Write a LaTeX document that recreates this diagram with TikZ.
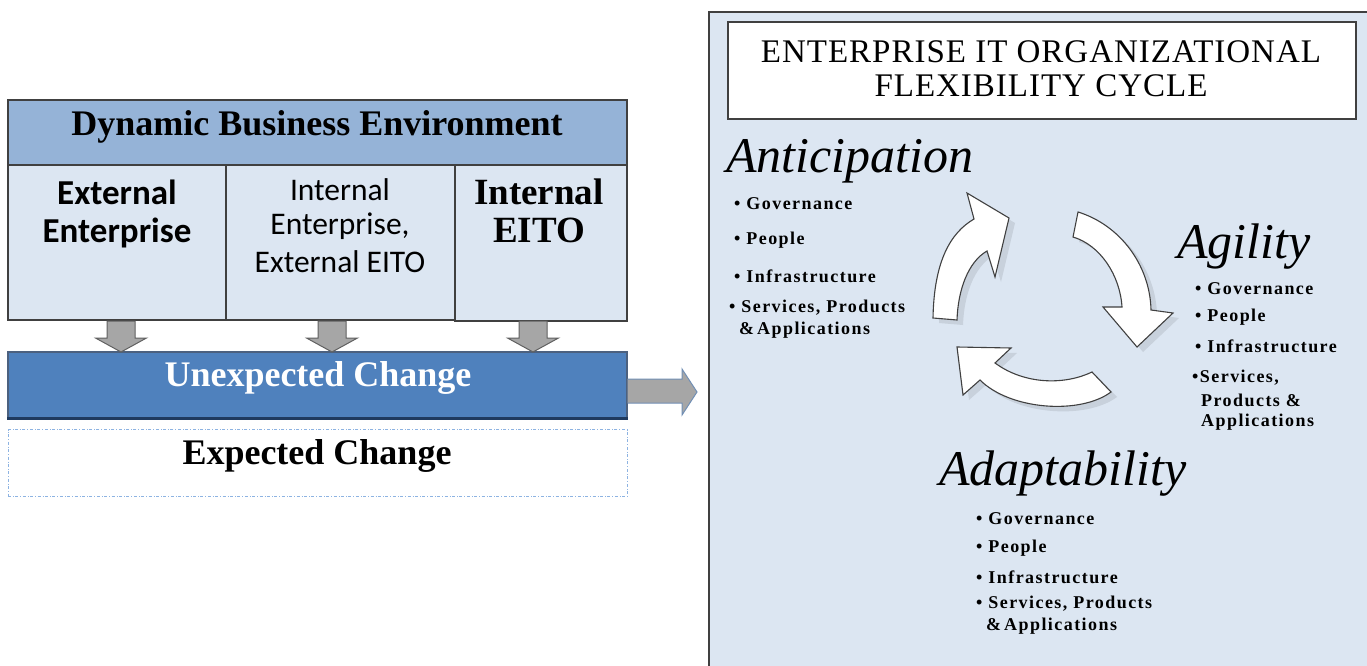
\documentclass[tikz,border=0pt]{standalone}
\usepackage{fontspec}
\setmainfont{Liberation Serif}
\newfontfamily\calfont{Carlito}
\newfontfamily\bulfont[LetterSpace=8]{Liberation Serif}
\newfontfamily\titlefont[LetterSpace=3]{Liberation Serif}
\usetikzlibrary{calc}

\definecolor{hdrblue}{HTML}{95B3D7}
\definecolor{cellblue}{HTML}{DCE6F2}
\definecolor{boxline}{HTML}{404040}
\definecolor{ucblue}{HTML}{4F81BD}
\definecolor{ucdark}{HTML}{1F3A5F}
\definecolor{dashblue}{HTML}{8DB3E2}
\definecolor{arrgray}{HTML}{A6A6A6}
\definecolor{arrline}{HTML}{606060}
\definecolor{shadowc}{HTML}{C8D1DC}

\newcommand{\fs}[1]{\fontsize{#1}{#1}\selectfont}

\tikzset{
  box/.style={draw=boxline, line width=1.3pt, inner sep=0pt},
  hdrbox/.style={box, fill=hdrblue},
  cellbox/.style={box, fill=cellblue},
  txt/.style={inner sep=0pt, align=center},
  blockarrow/.style={fill=arrgray, draw=arrline, line width=1pt, line join=miter},
  cyclearrow/.style={fill=white, draw=boxline, line width=1.1pt, line join=miter},
  cycleshadow/.style={fill=shadowc},
  bullet/.style={inner sep=0pt, anchor=west, align=left, font=\bulfont\bfseries\fs{18}},
  bigital/.style={inner sep=0pt, font=\itshape\fs{50}},
}

\begin{document}
\begin{tikzpicture}[x=1pt, y=-1pt]
\clip (0,0) rectangle (1367,666);
\fill[white] (0,0) rectangle (1367,666);

% ---------- left: sources of change ----------
\node[hdrbox, minimum width=619pt, minimum height=65pt] (env) at (317.5,132.5) {};
\node[txt, font=\bfseries\fs{36}] (envtxt) at (317,127) {Dynamic Business Environment};

\node[cellbox, minimum width=218pt, minimum height=155pt] (c1) at (117,242.5) {};
\node[cellbox, minimum width=229pt, minimum height=155pt] (c2) at (340.5,242.5) {};
\node[cellbox, minimum width=172pt, minimum height=156pt] (c3) at (541,243) {};

\node[txt, font=\calfont\bfseries\fs{35}] (t1a) at (117,192) {External};
\node[txt, font=\calfont\bfseries\fs{35}] (t1b) at (117,233) {Enterprise};
\node[txt, font=\calfont\fs{31.5}] (t2a) at (340,190) {Internal};
\node[txt, font=\calfont\fs{31.5}] (t2b) at (340,226) {Enterprise,};
\node[txt, font=\calfont\fs{31.5}] (t2c) at (340,262) {External EITO};
\node[txt, font=\bfseries\fs{37}] (t3a) at (539,192) {Internal};
\node[txt, font=\bfseries\fs{37}] (t3b) at (539,230) {EITO};

\node[box, draw=ucdark!80, fill=ucblue, minimum width=619pt, minimum height=66pt] (uc) at (317.5,385) {};
\draw[ucdark, line width=3pt] (uc.south west) -- (uc.south east);
\node[txt, text=white, font=\bfseries\fs{36}] (uctxt) at (318,378) {Unexpected Change};

\node[draw=dashblue, dash dot, line width=1pt, fill=white, minimum width=619pt, minimum height=67pt, inner sep=0pt] (ec) at (317.5,463) {};
\node[txt, font=\bfseries\fs{36}] (ectxt) at (317,456) {Expected Change};

% block arrows from each source down into the change bar
\foreach \n/\x in {c1/121, c2/332, c3/533}{
  \draw[blockarrow] (\x-14,321) -- (\x+14,321) -- (\x+14,338) -- (\x+25.5,338)
    -- (\x,352) -- (\x-25.5,338) -- (\x-14,338) -- cycle;
}

% arrow from the change bar into the cycle panel
\draw[fill=arrgray, draw=dashblue!80!black, line width=1pt]
  (uc.east |- 0,379) -- (682,379) -- (682,369) -- (697,392) -- (682,415)
  -- (682,403) -- (uc.east |- 0,403);

% ---------- right: flexibility cycle ----------
\node[draw=boxline, line width=2pt, fill=cellblue, minimum width=700pt, minimum height=700pt, anchor=north west, inner sep=0pt] (panel) at (708,11) {};

\node[box, line width=1.8pt, fill=white, minimum width=628pt, minimum height=97pt] (title) at (1042,70.5) {};
\node[txt, font=\titlefont\fs{33}] (titlea) at (1041,52) {ENTERPRISE IT ORGANIZATIONAL};
\node[txt, font=\titlefont\fs{33}] (titleb) at (1041,86) {FLEXIBILITY CYCLE};

% Anticipation
\node[bigital, anchor=base west] (ant) at (726,172) {Anticipation};
\node[bullet] (ant1) at (734,204) {\textbullet\ Governance};
\node[bullet] (ant2) at (734,240) {\textbullet\ People};
\node[bullet] (ant3) at (734,276) {\textbullet\ Infrastructure};
\node[bullet] (ant4) at (729,308) {\textbullet\ Services, Products};
\node[bullet] (ant5) at (739,330) {\&\,Applications};

% Agility
\node[bigital, anchor=base west] (agi) at (1177,258) {Agility};
\node[bullet] (agi1) at (1195,289) {\textbullet\ Governance};
\node[bullet] (agi2) at (1195,317) {\textbullet\ People};
\node[bullet] (agi3) at (1195,346) {\textbullet\ Infrastructure};
\node[bullet] (agi4) at (1192,378) {\textbullet Services,};
\node[bullet] (agi5) at (1201,400) {Products \&};
\node[bullet] (agi6) at (1201,422) {Applications};

% Adaptability
\node[bigital, anchor=base west] (ada) at (939,485) {Adaptability};
\node[bullet] (ada1) at (976,519) {\textbullet\ Governance};
\node[bullet] (ada2) at (976,548) {\textbullet\ People};
\node[bullet] (ada3) at (976,577) {\textbullet\ Infrastructure};
\node[bullet] (ada4) at (976,604) {\textbullet\ Services, Products};
\node[bullet] (ada5) at (986,626) {\&\,Applications};

% the three curved arrows of the cycle (shadows first)
\begin{scope}[shift={(6,5)}]
  \fill[cycleshadow] (933,318) -- (957,320) .. controls (958,290) and (968,262) .. (987,251)
    -- (995,277) -- (1009,218) -- (967,193) -- (974,219)
    .. controls (950,233) and (934,262) .. (933,318) -- cycle;
  \fill[cycleshadow] (1078,212) -- (1073,237) .. controls (1100,245) and (1120,275) .. (1122,307)
    -- (1103,307) -- (1137,347) -- (1173,313) -- (1151,310)
    .. controls (1150,265) and (1120,225) .. (1078,212) -- cycle;
  \fill[cycleshadow] (1092,372) -- (1111,392) .. controls (1080,415) and (1010,410) .. (980,380)
    -- (963,395) -- (957,347) -- (1011,348) -- (995,363)
    .. controls (1025,385) and (1065,385) .. (1092,372) -- cycle;
\end{scope}

\draw[cyclearrow] (933,318) -- (957,320) .. controls (958,290) and (968,262) .. (987,251)
  -- (995,277) -- (1009,218) -- (967,193) -- (974,219)
  .. controls (950,233) and (934,262) .. (933,318) -- cycle;
\draw[cyclearrow] (1078,212) -- (1073,237) .. controls (1100,245) and (1120,275) .. (1122,307)
  -- (1103,307) -- (1137,347) -- (1173,313) -- (1151,310)
  .. controls (1150,265) and (1120,225) .. (1078,212) -- cycle;
\draw[cyclearrow] (1092,372) -- (1111,392) .. controls (1080,415) and (1010,410) .. (980,380)
  -- (963,395) -- (957,347) -- (1011,348) -- (995,363)
  .. controls (1025,385) and (1065,385) .. (1092,372) -- cycle;

\end{tikzpicture}
\end{document}
